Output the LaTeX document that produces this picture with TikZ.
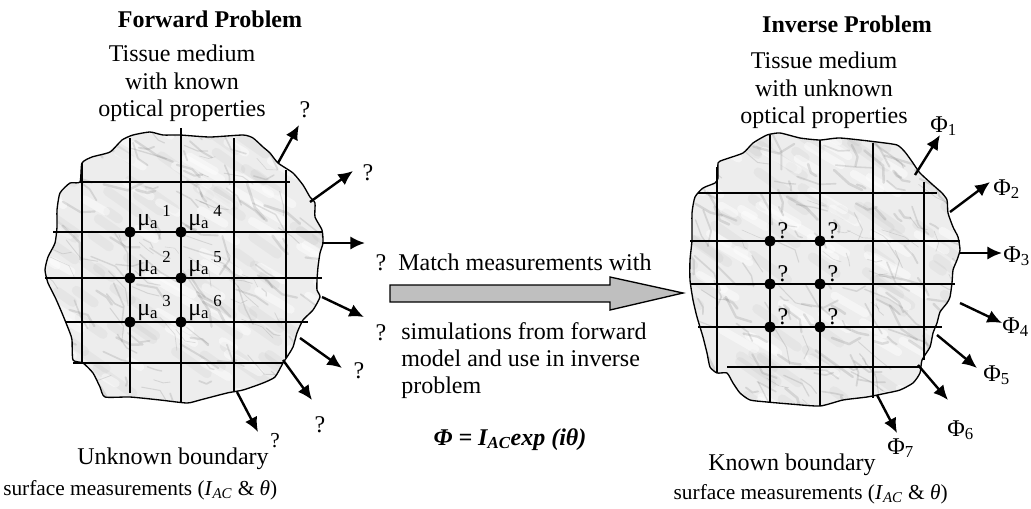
\documentclass[tikz,border=0pt]{standalone}
\usepackage{fontspec}
\setmainfont{Liberation Serif}
\usetikzlibrary{arrows.meta}

% outlines of the two tissue samples (pixel grid, y downwards)
\def\fwdblob{plot[smooth cycle,tension=.35] coordinates {(82,163) (92,157) (110,152) (122,140) (133,135) (150,132) (163,135) (180,135) (210,137) (243,135) (253,138) (263,147) (270,153) (278,163) (293,173) (303,185) (310,197) (315,203) (315,217) (322,230) (323,243) (320,253) (318,267) (317,280) (317,290) (320,297) (313,310) (303,320) (297,333) (293,347) (287,357) (283,363) (275,377) (263,383) (243,390) (227,393) (200,400) (187,403) (160,400) (130,397) (105,397) (100,387) (93,373) (83,363) (73,360) (72,340) (70,333) (62,313) (55,297) (48,283) (45,270) (48,257) (55,243) (57,227) (57,210) (60,193) (70,183) (80,182)}}
\def\invblob{plot[smooth cycle,tension=.35] coordinates {(718,163) (723,160) (743,153) (753,143) (767,135) (780,133) (800,138) (820,140) (840,138) (877,142) (897,145) (905,152) (913,163) (920,173) (933,185) (942,193) (947,200) (948,213) (953,227) (958,237) (960,250) (957,260) (953,270) (952,283) (950,297) (947,303) (940,312) (937,323) (933,333) (930,347) (922,360) (920,373) (913,383) (900,390) (887,393) (867,397) (843,400) (820,406) (790,404) (767,402) (750,400) (740,393) (733,383) (727,373) (717,373) (710,367) (707,353) (703,337) (697,317) (693,300) (690,280) (690,260) (692,240) (692,213) (695,197) (703,188) (715,183) (718,178)}}

% marble veins inside a sample, #1 = left edge
\newcommand\marble[1]{%
  \foreach \k in {1,...,70}{
    \pgfmathsetmacro\px{#1+290*rnd}
    \pgfmathsetmacro\py{125+285*rnd}
    \pgfmathsetmacro\dl{10+35*rnd}
    \draw[black!50,line width=7pt,opacity=.07,line cap=round] (\px,\py) -- ++(35:\dl);
  }
  \foreach \k in {1,...,60}{
    \pgfmathsetmacro\px{#1+290*rnd}
    \pgfmathsetmacro\py{125+285*rnd}
    \pgfmathsetmacro\dl{12+30*rnd}
    \draw[white,line width=6pt,opacity=.45,line cap=round] (\px,\py) -- ++(30:\dl);
  }
  \foreach \k in {1,...,170}{
    \pgfmathsetmacro\px{#1+290*rnd}
    \pgfmathsetmacro\py{125+285*rnd}
    \pgfmathsetmacro\dl{5+22*rnd}
    \pgfmathsetmacro\anga{5+70*rnd}
    \pgfmathsetmacro\angb{\anga-50+100*rnd}
    \pgfmathsetmacro\lw{0.4+1.6*rnd}
    \draw[black!55,line width=\lw pt,opacity=.2,line cap=round,line join=round]
      (\px,\py) -- ++(\anga:\dl) -- ++(\angb:0.7*\dl);
  }}

\begin{document}
\begin{tikzpicture}[x=0.75pt,y=-0.75pt,>=Latex,
txt/.style={inner sep=0,font=\fontsize{18}{20.5}\selectfont},
smalltxt/.style={inner sep=0,font=\fontsize{16}{19}\selectfont},
ttl/.style={inner sep=0,font=\fontsize{18}{20.5}\selectfont\bfseries},
tissue/.style={fill=black!7},
outline/.style={draw,line width=1pt},
gridline/.style={line width=1.1pt},
dot/.style={circle,fill,inner sep=0,minimum size=8.5pt},
outarr/.style={-{Latex[length=11pt,width=10pt]},line width=1.8pt},
bigarr/.style={draw,line width=1pt,fill=black!25}]
\useasboundingbox (0,0) rectangle (1031,508);

% ---- forward problem ----
\begin{scope}
\clip \fwdblob;
\fill[tissue] (40,120) rectangle (330,410);
\pgfmathsetseed{11}
\marble{40}
\end{scope}
\draw[gridline] (82,163) -- (82,363) (130,138) -- (130,393) (181,128) -- (181,402)
  (234,138) -- (234,392) (286,170) -- (286,358);
\draw[gridline] (80,182) -- (290,182) (53,232) -- (323,232) (45,278) -- (322,278)
  (65,322) -- (308,322) (73,363) -- (283,363);
\draw[outline] \fwdblob;

\node[dot] (fd1) at (130,232) {};
\node[dot] (fd4) at (181,232) {};
\node[dot] (fd2) at (130,278) {};
\node[dot] (fd5) at (181,278) {};
\node[dot] (fd3) at (130,322) {};
\node[dot] (fd6) at (181,322) {};
\node[txt,anchor=base west] (mu1) at (137,225) {μ\textsubscript{a}\,\textsuperscript{1}};
\node[txt,anchor=base west] (mu4) at (188,225) {μ\textsubscript{a}\,\textsuperscript{4}};
\node[txt,anchor=base west] (mu2) at (137,271) {μ\textsubscript{a}\,\textsuperscript{2}};
\node[txt,anchor=base west] (mu5) at (188,271) {μ\textsubscript{a}\,\textsuperscript{5}};
\node[txt,anchor=base west] (mu3) at (137,315) {μ\textsubscript{a}\,\textsuperscript{3}};
\node[txt,anchor=base west] (mu6) at (188,315) {μ\textsubscript{a}\,\textsuperscript{6}};

\coordinate (fa1s) at (278,163); \coordinate (fa1e) at (299,125);
\coordinate (fa2s) at (310,202); \coordinate (fa2e) at (353,171);
\coordinate (fa3s) at (322,243); \coordinate (fa3e) at (365,243);
\coordinate (fa4s) at (322,297); \coordinate (fa4e) at (364,317);
\coordinate (fa5s) at (300,338); \coordinate (fa5e) at (342,368);
\coordinate (fa6s) at (283,360); \coordinate (fa6e) at (312,400);
\coordinate (fa7s) at (237,392); \coordinate (fa7e) at (258,432);
\draw[outarr] (fa1s) -- (fa1e);
\draw[outarr] (fa2s) -- (fa2e);
\draw[outarr] (fa3s) -- (fa3e);
\draw[outarr] (fa4s) -- (fa4e);
\draw[outarr] (fa5s) -- (fa5e);
\draw[outarr] (fa6s) -- (fa6e);
\draw[outarr] (fa7s) -- (fa7e);
\node[txt,anchor=base] (q1) at (305,117) {?};
\node[txt,anchor=base] (q2) at (368,180) {?};
\node[txt,anchor=base] (q3) at (381,270) {?};
\node[txt,anchor=base] (q4) at (381,340) {?};
\node[txt,anchor=base] (q5) at (359,378) {?};
\node[txt,anchor=base] (q6) at (320,432) {?};
\node[smalltxt,anchor=base] (q7) at (275,447) {?};

\node[ttl,anchor=base] (fwdtitle) at (210,27) {Forward Problem};
\node[txt,anchor=north,align=center] (fwdtissue) at (182,45) {Tissue medium\\with known\\optical properties};
\node[txt,anchor=base] (fwdbnd) at (173,464) {Unknown boundary};
\node[smalltxt,anchor=base west] (fwdsurf) at (3,495) {surface measurements (\textit{I}\textsubscript{\textit{AC}} \& \textit{θ})};

% ---- matching step ----
\draw[bigarr] (390,285) -- (610,285) -- (610,277) -- (683,293) -- (610,310) -- (610,302) -- (390,302) -- cycle;
\node[txt,anchor=base west] (match) at (398,270) {Match measurements with};
\node[txt,anchor=north west,align=left] (simul) at (401,322) {simulations from forward\\model and use in inverse\\problem};
\node[txt,anchor=base] (phase) at (510,445) {\bfseries\itshape Φ = I\textsubscript{AC}exp (iθ)};

% ---- inverse problem ----
\begin{scope}
\clip \invblob;
\fill[tissue] (680,120) rectangle (970,410);
\pgfmathsetseed{23}
\marble{680}
\end{scope}
\draw[gridline] (717,167) -- (717,373) (770,135) -- (770,402) (820,140) -- (820,406)
  (873,143) -- (873,398) (924,182) -- (924,360);
\draw[gridline] (698,193) -- (937,193) (690,241) -- (960,241) (690,284) -- (955,284)
  (698,327) -- (942,327) (727,367) -- (920,367);
\draw[outline] \invblob;

\node[dot] (id1) at (770,241) {};
\node[dot] (id4) at (820,241) {};
\node[dot] (id2) at (770,284) {};
\node[dot] (id5) at (820,284) {};
\node[dot] (id3) at (770,327) {};
\node[dot] (id6) at (820,327) {};
\node[txt,anchor=base] (iq1) at (783,238) {?};
\node[txt,anchor=base] (iq4) at (833,238) {?};
\node[txt,anchor=base] (iq2) at (783,281) {?};
\node[txt,anchor=base] (iq5) at (833,281) {?};
\node[txt,anchor=base] (iq3) at (783,324) {?};
\node[txt,anchor=base] (iq6) at (833,324) {?};

\coordinate (ia1s) at (915,175); \coordinate (ia1e) at (940,135);
\coordinate (ia2s) at (950,212); \coordinate (ia2e) at (990,182);
\coordinate (ia3s) at (960,253); \coordinate (ia3e) at (1002,253);
\coordinate (ia4s) at (960,303); \coordinate (ia4e) at (1002,323);
\coordinate (ia5s) at (937,335); \coordinate (ia5e) at (977,368);
\coordinate (ia6s) at (918,365); \coordinate (ia6e) at (948,400);
\coordinate (ia7s) at (877,395); \coordinate (ia7e) at (897,433);
\draw[outarr] (ia1s) -- (ia1e);
\draw[outarr] (ia2s) -- (ia2e);
\draw[outarr] (ia3s) -- (ia3e);
\draw[outarr] (ia4s) -- (ia4e);
\draw[outarr] (ia5s) -- (ia5e);
\draw[outarr] (ia6s) -- (ia6e);
\draw[outarr] (ia7s) -- (ia7e);
\node[txt,anchor=base west] (phi1) at (930,132) {Φ\textsubscript{1}};
\node[txt,anchor=base west] (phi2) at (993,195) {Φ\textsubscript{2}};
\node[txt,anchor=base west] (phi3) at (1003,262) {Φ\textsubscript{3}};
\node[txt,anchor=base west] (phi4) at (1002,333) {Φ\textsubscript{4}};
\node[txt,anchor=base west] (phi5) at (983,381) {Φ\textsubscript{5}};
\node[txt,anchor=base west] (phi6) at (947,436) {Φ\textsubscript{6}};
\node[txt,anchor=base west] (phi7) at (887,454) {Φ\textsubscript{7}};

\node[ttl,anchor=base] (invtitle) at (847,32) {Inverse Problem};
\node[txt,anchor=north,align=center] (invtissue) at (824,52) {Tissue medium\\with unknown\\optical properties};
\node[txt,anchor=base] (invbnd) at (792,470) {Known boundary};
\node[smalltxt,anchor=base east] (invsurf) at (948,499) {surface measurements (\textit{I}\textsubscript{\textit{AC}} \& \textit{θ})};
\end{tikzpicture}
\end{document}
